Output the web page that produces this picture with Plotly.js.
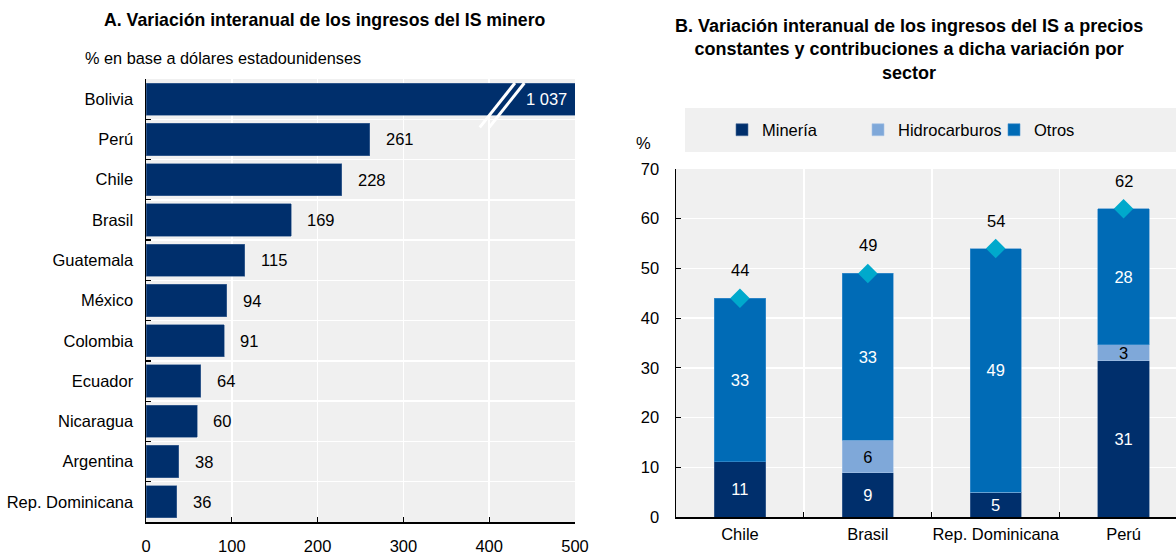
<!DOCTYPE html>
<html><head><meta charset="utf-8">
<script src="https://cdn.plot.ly/plotly-3.0.1.min.js"></script>
<style>body{margin:0;background:#fff}</style>
</head><body><div id="chart" style="width:1176px;height:555px"></div>
<script>
// ---- Panel A data ----
const countriesA = ['Bolivia','Perú','Chile','Brasil','Guatemala','México','Colombia','Ecuador','Nicaragua','Argentina','Rep. Dominicana'];
const valuesA = [1037, 261, 228, 169, 115, 94, 91, 64, 60, 38, 36];
const axisMaxA = 500;
const ticksA = [0, 100, 200, 300, 400, 500];

// ---- Panel B data ----
const countriesB = ['Chile', 'Brasil', 'Rep. Dominicana', 'Perú'];
const mineria = [11.1, 8.9, 5.0, 31.4];
const hidrocarburos = [0, 6.5, 0, 3.2];
const otros = [32.9, 33.6, 49.0, 27.4];
const totals = [44, 49, 54, 62];
const mineriaLabels = ['11', '9', '5', '31'];
const hidroLabels = ['', '6', '', '3'];
const otrosLabels = ['33', '33', '49', '28'];
const ticksB = [0, 10, 20, 30, 40, 50, 60, 70];

const NAVY = '#002F6C', OTROS = '#006BB6', HIDRO = '#7FA8D9', DIAM = '#00A9CC';
const FONT = 'Liberation Sans, Arial, sans-serif';
const FS = 16.5;
const fmt = v => String(v).replace(/\B(?=(\d{3})+(?!\d))/g, ' ');

const traces = [
  {type:'bar', orientation:'h', y:countriesA, x:valuesA, xaxis:'x', yaxis:'y', width:0.8,
   marker:{color:NAVY, line:{color:'#4d6f9c', width:0.6}}, showlegend:false, hoverinfo:'x+y'},
  {type:'bar', name:'Minería', x:countriesB, y:mineria, xaxis:'x2', yaxis:'y2', width:0.4,
   marker:{color:NAVY, line:{color:'#4d6f9c', width:0.6}}, text:mineriaLabels, textposition:'inside',
   insidetextanchor:'middle', constraintext:'none', textangle:0, textfont:{color:'#fff', size:FS, family:FONT}},
  {type:'bar', name:'Hidrocarburos', x:countriesB, y:hidrocarburos, xaxis:'x2', yaxis:'y2', width:0.4,
   marker:{color:HIDRO, line:{color:'#a9c4e6', width:0.6}}, text:hidroLabels, textposition:'inside',
   insidetextanchor:'middle', constraintext:'none', textangle:0, textfont:{color:'#000', size:FS, family:FONT}},
  {type:'bar', name:'Otros', x:countriesB, y:otros, xaxis:'x2', yaxis:'y2', width:0.4,
   marker:{color:OTROS, line:{color:'#4a94d0', width:0.6}}, text:otrosLabels, textposition:'inside',
   insidetextanchor:'middle', constraintext:'none', textangle:0, textfont:{color:'#fff', size:FS, family:FONT}},
  {type:'scatter', mode:'markers', x:countriesB, y:totals, xaxis:'x2', yaxis:'y2', showlegend:false,
   marker:{symbol:'diamond', size:15, color:DIAM}, cliponaxis:false}
];

const annotations = [];
// Panel A value labels
valuesA.forEach((v, i) => {
  const broken = v > axisMaxA;
  annotations.push({xref:'x', yref:'y', x: broken ? axisMaxA : v, y: countriesA[i], text: fmt(v),
    showarrow:false, xanchor: broken ? 'right' : 'left', xshift: broken ? -6 : 14,
    font:{size:FS, color: broken ? '#fff' : '#000'}});
});
// Panel B totals
totals.forEach((t, i) => {
  annotations.push({xref:'x2', yref:'y2', x:countriesB[i], y:t, text:String(t), showarrow:false,
    yanchor:'middle', yshift:28, font:{size:FS, color:'#000'}});
});
// Titles
annotations.push(
  {xref:'paper', yref:'paper', x:325/1176, y:(555-20)/555, xanchor:'center', yanchor:'middle', showarrow:false,
   text:'<b>A. Variación interanual de los ingresos del IS minero</b>', font:{size:17.7}},
  {xref:'paper', yref:'paper', x:83/1176, y:(555-58)/555, xanchor:'left', yanchor:'middle', showarrow:false,
   text:'% en base a dólares estadounidenses', font:{size:16.3}},
  {xref:'paper', yref:'paper', x:909/1176, y:(555-50)/555, xanchor:'center', yanchor:'middle', showarrow:false,
   text:'<b>B. Variación interanual de los ingresos del IS a precios<br>constantes y contribuciones a dicha variación por<br>sector</b>', font:{size:18}},
  {xref:'paper', yref:'paper', x:643/1176, y:(555-143)/555, xanchor:'center', yanchor:'middle', showarrow:false,
   text:'%', font:{size:FS}}
);

const axisCommon = {showline:true, linecolor:'#000', linewidth:1.5, ticks:'inside', ticklen:5, tickwidth:1.2,
  tickcolor:'#000', gridcolor:'#fff', gridwidth:1.5, zeroline:false, fixedrange:true, tickfont:{size:FS},
  automargin:false, tickangle:0};

const layout = {
  width:1176, height:555, margin:{l:0, r:0, t:0, b:0, autoexpand:false},
  paper_bgcolor:'#fff', plot_bgcolor:'#f0f0f0',
  font:{family:FONT, size:FS, color:'#000'},
  barmode:'stack',
  xaxis:Object.assign({}, axisCommon, {domain:[146/1176, 575/1176], anchor:'y', range:[0, axisMaxA],
    tickmode:'array', tickvals:ticksA, ticklabelstandoff:9}),
  yaxis:Object.assign({}, axisCommon, {domain:[(555-522)/555, (555-79)/555], anchor:'x', type:'category',
    autorange:'reversed', tickson:'boundaries', showgrid:true, ticklabelstandoff:8}),
  xaxis2:Object.assign({}, axisCommon, {domain:[676/1176, 1], anchor:'y2', type:'category',
    range:[-0.5, 3.41], tickson:'boundaries', showgrid:true, ticklabelstandoff:2}),
  yaxis2:Object.assign({}, axisCommon, {domain:[(555-517)/555, (555-169)/555], anchor:'x2', range:[0, 70],
    tickmode:'array', tickvals:ticksB, ticklabelstandoff:12}),
  legend:{orientation:'h', x:722/1176, y:(555-130)/555, xanchor:'left', yanchor:'middle',
    bgcolor:'rgba(0,0,0,0)', traceorder:'normal', entrywidth:91, entrywidthmode:'pixels',
    itemwidth:30, font:{size:FS}},
  shapes:[
    {type:'rect', xref:'paper', yref:'paper', x0:685/1176, x1:1, y0:(555-152)/555, y1:(555-108)/555,
     fillcolor:'#f0f0f0', line:{width:0}, layer:'below'},
    {type:'line', xref:'x', yref:'y', x0:389, x1:430, y0:0.7, y1:-0.4, line:{color:'#fff', width:3}},
    {type:'line', xref:'x', yref:'y', x0:400, x1:441, y0:0.7, y1:-0.4, line:{color:'#fff', width:3}}
  ],
  annotations:annotations
};

Plotly.newPlot('chart', traces, layout, {displayModeBar:false, staticPlot:true});
</script></body></html>
